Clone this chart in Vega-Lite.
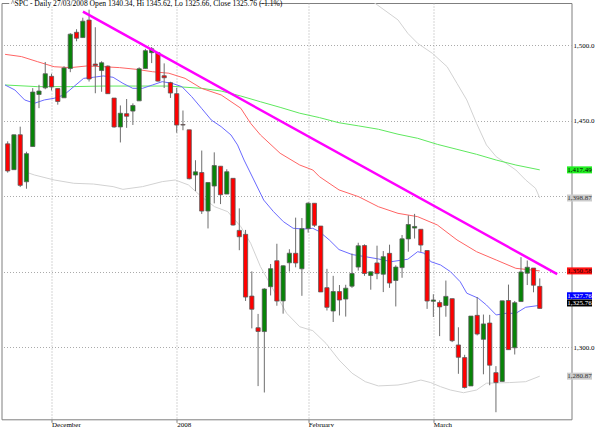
{
  "$schema": "https://vega.github.io/schema/vega-lite/v6.json",
  "width": 570,
  "height": 416.3,
  "autosize": {"type": "none"},
  "padding": {"left": 1.5, "top": 3, "right": 28.5, "bottom": 7.7},
  "background": "white",
  "config": {"view": {"stroke": "#7f7f7f", "strokeWidth": 1}, "font": "Liberation Serif"},
  "datasets": {
    "candles": [
      {"i":0,"o":1434.71,"h":1436.4,"l":1415.64,"c":1416.77},
      {"i":1,"o":1417.62,"h":1440.86,"l":1417.62,"c":1440.7},
      {"i":2,"o":1440.74,"h":1446.09,"l":1406.1,"c":1407.22},
      {"i":3,"o":1409.59,"h":1429.49,"l":1405.0,"c":1428.23},
      {"i":4,"o":1432.95,"h":1471.62,"l":1432.95,"c":1469.02},
      {"i":5,"o":1467.41,"h":1473.81,"l":1458.36,"c":1469.72},
      {"i":6,"o":1471.83,"h":1488.94,"l":1470.89,"c":1481.14},
      {"i":7,"o":1479.42,"h":1481.16,"l":1470.08,"c":1472.42},
      {"i":8,"o":1471.34,"h":1471.34,"l":1460.66,"c":1462.79},
      {"i":9,"o":1465.22,"h":1486.09,"l":1465.22,"c":1485.01},
      {"i":10,"o":1484.59,"h":1508.02,"l":1482.19,"c":1507.34},
      {"i":11,"o":1508.6,"h":1510.63,"l":1502.66,"c":1504.66},
      {"i":12,"o":1505.11,"h":1518.27,"l":1504.96,"c":1515.96},
      {"i":13,"o":1516.68,"h":1523.57,"l":1475.99,"c":1477.65},
      {"i":14,"o":1487.58,"h":1511.96,"l":1468.23,"c":1486.59},
      {"i":15,"o":1483.27,"h":1489.4,"l":1469.21,"c":1488.41},
      {"i":16,"o":1486.19,"h":1486.67,"l":1467.78,"c":1467.95},
      {"i":17,"o":1465.05,"h":1465.05,"l":1445.43,"c":1445.9},
      {"i":18,"o":1445.92,"h":1460.16,"l":1435.65,"c":1454.98},
      {"i":19,"o":1454.7,"h":1464.42,"l":1445.31,"c":1453.0},
      {"i":20,"o":1456.42,"h":1461.53,"l":1447.22,"c":1460.12},
      {"i":21,"o":1463.19,"h":1485.4,"l":1463.19,"c":1484.46},
      {"i":22,"o":1484.55,"h":1497.63,"l":1484.55,"c":1496.45},
      {"i":23,"o":1495.12,"h":1498.85,"l":1488.2,"c":1497.66},
      {"i":24,"o":1495.05,"h":1495.05,"l":1475.86,"c":1476.27},
      {"i":25,"o":1479.83,"h":1488.01,"l":1471.7,"c":1478.49},
      {"i":26,"o":1475.25,"h":1475.83,"l":1465.13,"c":1468.36},
      {"i":27,"o":1467.97,"h":1471.77,"l":1442.07,"c":1447.16},
      {"i":28,"o":1447.55,"h":1456.8,"l":1443.73,"c":1447.16},
      {"i":29,"o":1444.01,"h":1444.01,"l":1411.19,"c":1411.63},
      {"i":30,"o":1414.07,"h":1423.87,"l":1403.45,"c":1416.18},
      {"i":31,"o":1415.71,"h":1430.28,"l":1388.3,"c":1390.19},
      {"i":32,"o":1390.25,"h":1409.19,"l":1378.7,"c":1409.13},
      {"i":33,"o":1406.78,"h":1429.09,"l":1395.31,"c":1420.33},
      {"i":34,"o":1419.91,"h":1419.91,"l":1394.83,"c":1401.02},
      {"i":35,"o":1401.46,"h":1417.89,"l":1401.46,"c":1416.25},
      {"i":36,"o":1411.88,"h":1411.88,"l":1380.6,"c":1380.95},
      {"i":37,"o":1377.41,"h":1391.99,"l":1364.27,"c":1373.2},
      {"i":38,"o":1374.79,"h":1377.72,"l":1330.67,"c":1333.25},
      {"i":39,"o":1333.9,"h":1350.28,"l":1312.51,"c":1325.19},
      {"i":40,"o":1312.94,"h":1322.09,"l":1274.29,"c":1310.5},
      {"i":41,"o":1310.41,"h":1339.09,"l":1270.05,"c":1338.6},
      {"i":42,"o":1340.13,"h":1355.15,"l":1334.31,"c":1352.07},
      {"i":43,"o":1357.32,"h":1368.56,"l":1327.5,"c":1330.61},
      {"i":44,"o":1330.7,"h":1354.25,"l":1322.26,"c":1353.96},
      {"i":45,"o":1355.94,"h":1364.93,"l":1350.19,"c":1362.3},
      {"i":46,"o":1362.22,"h":1385.86,"l":1352.95,"c":1355.81},
      {"i":47,"o":1351.98,"h":1385.62,"l":1334.08,"c":1378.55},
      {"i":48,"o":1378.6,"h":1396.02,"l":1375.93,"c":1395.42},
      {"i":49,"o":1395.38,"h":1395.38,"l":1379.69,"c":1380.82},
      {"i":50,"o":1380.28,"h":1380.28,"l":1336.64,"c":1336.64},
      {"i":51,"o":1339.48,"h":1351.96,"l":1324.34,"c":1326.45},
      {"i":52,"o":1324.01,"h":1347.31,"l":1316.75,"c":1336.91},
      {"i":53,"o":1336.88,"h":1341.22,"l":1321.06,"c":1331.29},
      {"i":54,"o":1331.92,"h":1341.4,"l":1320.32,"c":1339.13},
      {"i":55,"o":1340.48,"h":1362.1,"l":1339.36,"c":1348.86},
      {"i":56,"o":1353.12,"h":1369.23,"l":1350.78,"c":1367.21},
      {"i":57,"o":1367.33,"h":1368.16,"l":1347.31,"c":1348.86},
      {"i":58,"o":1347.52,"h":1350.0,"l":1338.13,"c":1349.99},
      {"i":59,"o":1355.86,"h":1367.28,"l":1345.05,"c":1348.78},
      {"i":60,"o":1348.39,"h":1363.71,"l":1336.55,"c":1360.03},
      {"i":61,"o":1362.21,"h":1367.94,"l":1339.34,"c":1342.53},
      {"i":62,"o":1344.22,"h":1354.3,"l":1327.04,"c":1353.11},
      {"i":63,"o":1352.75,"h":1374.36,"l":1346.03,"c":1371.8},
      {"i":64,"o":1371.76,"h":1387.34,"l":1363.29,"c":1381.29},
      {"i":65,"o":1378.95,"h":1388.34,"l":1372.0,"c":1380.02},
      {"i":66,"o":1378.16,"h":1378.16,"l":1363.16,"c":1367.68},
      {"i":67,"o":1364.07,"h":1364.07,"l":1325.42,"c":1330.63},
      {"i":68,"o":1330.45,"h":1335.13,"l":1320.04,"c":1331.34},
      {"i":69,"o":1329.58,"h":1331.03,"l":1307.39,"c":1326.75},
      {"i":70,"o":1327.69,"h":1344.19,"l":1320.22,"c":1333.7},
      {"i":71,"o":1332.2,"h":1332.2,"l":1303.42,"c":1304.34},
      {"i":72,"o":1301.53,"h":1313.24,"l":1282.43,"c":1293.37},
      {"i":73,"o":1293.16,"h":1295.01,"l":1272.66,"c":1273.37},
      {"i":74,"o":1274.4,"h":1320.65,"l":1274.4,"c":1320.65},
      {"i":75,"o":1321.13,"h":1333.26,"l":1307.86,"c":1308.77},
      {"i":76,"o":1305.26,"h":1321.68,"l":1282.11,"c":1315.48},
      {"i":77,"o":1316.05,"h":1321.47,"l":1274.86,"c":1288.14},
      {"i":78,"o":1283.21,"h":1287.5,"l":1256.98,"c":1276.6},
      {"i":79,"o":1277.41,"h":1330.74,"l":1277.41,"c":1330.74},
      {"i":80,"o":1330.97,"h":1341.51,"l":1298.42,"c":1298.42},
      {"i":81,"o":1299.67,"h":1330.67,"l":1295.22,"c":1329.51},
      {"i":82,"o":1330.29,"h":1359.68,"l":1330.29,"c":1349.88},
      {"i":83,"o":1349.07,"h":1357.47,"l":1341.21,"c":1352.99},
      {"i":84,"o":1352.45,"h":1352.45,"l":1336.41,"c":1341.13},
      {"i":85,"o":1340.34,"h":1345.62,"l":1325.66,"c":1325.76}
    ],
    "green": [
      {"i":-0.42,"v":1473.7},{"i":4.76,"v":1472.6},{"i":10.04,"v":1472.6},{"i":15.27,"v":1473.0},
      {"i":20.45,"v":1473.0},{"i":25.74,"v":1473.0},{"i":30.96,"v":1471.5},{"i":34.1,"v":1469.7},
      {"i":37.24,"v":1466.4},{"i":40.38,"v":1462.6},{"i":43.52,"v":1458.9},{"i":46.66,"v":1455.0},
      {"i":49.8,"v":1452.1},{"i":52.93,"v":1448.7},{"i":56.07,"v":1446.6},{"i":59.21,"v":1444.4},
      {"i":62.35,"v":1441.1},{"i":65.49,"v":1438.4},{"i":68.63,"v":1434.4},{"i":71.77,"v":1431.1},
      {"i":74.9,"v":1427.8},{"i":78.04,"v":1424.0},{"i":81.18,"v":1420.7},{"i":85,"v":1417.49}
    ],
    "red": [
      {"i":-0.42,"v":1494.0},{"i":2.2,"v":1492.5},{"i":4.8,"v":1489.1},{"i":7.42,"v":1485.8},
      {"i":10.04,"v":1485.2},{"i":12.65,"v":1486.3},{"i":15.27,"v":1485.8},{"i":17.89,"v":1485.2},
      {"i":20.5,"v":1484.1},{"i":23.12,"v":1482.5},{"i":25.74,"v":1481.5},{"i":28.34,"v":1478.1},
      {"i":30.96,"v":1471.5},{"i":34.1,"v":1467.1},{"i":37.24,"v":1458.3},{"i":38.81,"v":1448.3},
      {"i":40.38,"v":1440.6},{"i":43.52,"v":1428.5},{"i":46.66,"v":1420.7},{"i":48.75,"v":1417.4},
      {"i":49.8,"v":1413.0},{"i":52.93,"v":1404.2},{"i":56.07,"v":1399.7},{"i":59.21,"v":1393.1},
      {"i":62.35,"v":1388.7},{"i":65.49,"v":1386.5},{"i":68.63,"v":1381.0},{"i":71.77,"v":1371.1},
      {"i":74.9,"v":1363.3},{"i":78.04,"v":1357.8},{"i":81.18,"v":1352.3},{"i":85,"v":1350.58}
    ],
    "blue": [
      {"i":-0.42,"v":1473.7},{"i":1.15,"v":1470.4},{"i":2.71,"v":1463.8},{"i":4.28,"v":1461.6},
      {"i":5.85,"v":1463.8},{"i":7.42,"v":1464.9},{"i":8.99,"v":1467.1},{"i":10.56,"v":1472.6},
      {"i":12.13,"v":1478.1},{"i":13.7,"v":1478.8},{"i":15.27,"v":1479.7},{"i":16.84,"v":1478.8},
      {"i":18.41,"v":1474.8},{"i":19.98,"v":1471.5},{"i":21.55,"v":1471.5},{"i":23.12,"v":1473.7},
      {"i":24.69,"v":1475.9},{"i":26.26,"v":1474.8},{"i":27.83,"v":1472.6},{"i":29.39,"v":1466.0},
      {"i":30.96,"v":1458.3},{"i":32.53,"v":1450.5},{"i":34.1,"v":1446.1},{"i":35.67,"v":1440.6},
      {"i":36.72,"v":1434.0},{"i":37.76,"v":1424.0},{"i":39.33,"v":1410.8},{"i":40.9,"v":1397.5},
      {"i":42.47,"v":1389.8},{"i":44.04,"v":1383.2},{"i":45.61,"v":1378.8},{"i":47.17,"v":1378.3},
      {"i":48.74,"v":1378.8},{"i":49.8,"v":1376.6},{"i":51.37,"v":1371.1},{"i":52.93,"v":1364.7},
      {"i":55.02,"v":1361.4},{"i":57.13,"v":1360.0},{"i":59.21,"v":1358.5},{"i":61.3,"v":1356.7},
      {"i":63.92,"v":1358.3},{"i":65.49,"v":1363.3},{"i":66.54,"v":1362.3},{"i":67.58,"v":1356.7},
      {"i":69.15,"v":1354.5},{"i":70.72,"v":1350.1},{"i":72.29,"v":1343.4},{"i":73.34,"v":1335.8},
      {"i":75.17,"v":1332.5},{"i":76.48,"v":1328.0},{"i":78.04,"v":1321.4},{"i":79.61,"v":1322.5},
      {"i":81.18,"v":1322.5},{"i":82.75,"v":1326.5},{"i":85,"v":1327.76}
    ],
    "upper": [
      {"i":57.96,"v":1530.0},{"i":62.35,"v":1516.8},{"i":63.92,"v":1507.9},{"i":65.49,"v":1501.3},
      {"i":67.84,"v":1494.7},{"i":70.2,"v":1485.8},{"i":71.77,"v":1474.8},{"i":73.34,"v":1463.8},
      {"i":74.9,"v":1448.3},{"i":76.48,"v":1434.0},{"i":78.04,"v":1426.2},{"i":79.61,"v":1421.9},
      {"i":81.18,"v":1417.4},{"i":82.75,"v":1410.8},{"i":84.32,"v":1405.3},{"i":85,"v":1398.87}
    ],
    "lower": [
      {"i":2.71,"v":1416.3},{"i":4.28,"v":1414.1},{"i":7.42,"v":1410.8},{"i":10.56,"v":1408.6},
      {"i":13.7,"v":1408.1},{"i":16.84,"v":1406.4},{"i":18.41,"v":1404.6},{"i":21.55,"v":1406.4},
      {"i":24.69,"v":1409.7},{"i":26.77,"v":1410.8},{"i":28.88,"v":1407.5},{"i":30.96,"v":1399.7},
      {"i":33.05,"v":1393.1},{"i":35.15,"v":1389.8},{"i":37.24,"v":1379.9},{"i":38.81,"v":1368.9},
      {"i":40.38,"v":1353.4},{"i":42.47,"v":1337.9},{"i":44.57,"v":1322.5},{"i":46.66,"v":1313.6},
      {"i":48.74,"v":1311.0},{"i":50.85,"v":1302.6},{"i":52.93,"v":1291.6},{"i":55.02,"v":1282.8},
      {"i":57.13,"v":1277.2},{"i":59.21,"v":1274.4},{"i":62.35,"v":1275.0},{"i":63.92,"v":1276.2},
      {"i":66.01,"v":1278.3},{"i":67.58,"v":1276.6},{"i":69.15,"v":1273.9},{"i":70.72,"v":1271.7},
      {"i":72.82,"v":1269.9},{"i":74.9,"v":1271.7},{"i":76.48,"v":1276.2},{"i":80.14,"v":1276.6},
      {"i":82.75,"v":1277.2},{"i":85,"v":1280.87}
    ],
    "trend": [
      {"i":12.02,"v":1522.25},{"i":87.78,"v":1348.5}
    ],
    "labels": [
      {"name":"green","v":1417.49},
      {"name":"upper","v":1398.87},
      {"name":"red","v":1350.58},
      {"name":"lower","v":1280.87}
    ]
  },
  "layer": [
    {
      "data": {"name": "upper"},
      "mark": {"type": "line", "color": "#d2d2d2", "strokeWidth": 1, "clip": true},
      "encoding": {
        "x": {
          "field": "i", "type": "quantitative", "title": null,
          "scale": {"domain": [-0.19, 89.27], "nice": false, "zero": false},
          "axis": {
            "values": [7, 27, 48, 68],
            "labelExpr": "datum.value == 7 ? 'December' : datum.value == 27 ? '2008' : datum.value == 48 ? 'February' : 'March'",
            "labelAlign": "left", "labelDx": 1.5, "labelBaseline": "top", "labelPadding": -1.5,
            "tickSize": 3, "tickColor": "#808080", "domain": false,
            "grid": true, "gridColor": "#aaaaaa", "gridDash": [1, 2],
            "labelFont": "Liberation Serif", "labelFontSize": 7, "labelColor": "#000000",
            "labelFlush": false, "labelOverlap": false
          }
        },
        "y": {
          "field": "v", "type": "quantitative", "title": null,
          "scale": {"domain": [1252.3, 1528], "nice": false, "zero": false},
          "axis": {
            "orient": "right", "values": [1300, 1350, 1400, 1450, 1500], "format": ",.1f",
            "labelExpr": "datum.value == 1350 || datum.value == 1400 ? '' : datum.label",
            "ticks": false, "tickSize": 0, "labelPadding": 1.5, "domain": false,
            "grid": true, "gridColor": "#aaaaaa", "gridDash": [1, 2],
            "labelFont": "Liberation Serif", "labelFontSize": 7, "labelColor": "#000000"
          }
        }
      }
    },
    {
      "data": {"name": "lower"},
      "mark": {"type": "line", "color": "#d2d2d2", "strokeWidth": 1, "clip": true},
      "encoding": {"x": {"field": "i", "type": "quantitative", "title": null}, "y": {"field": "v", "type": "quantitative", "title": null}}
    },
    {
      "data": {"name": "green"},
      "mark": {"type": "line", "color": "#5ee85e", "strokeWidth": 1, "clip": true},
      "encoding": {"x": {"field": "i", "type": "quantitative", "title": null}, "y": {"field": "v", "type": "quantitative", "title": null}}
    },
    {
      "data": {"name": "red"},
      "mark": {"type": "line", "color": "#ff6464", "strokeWidth": 1, "clip": true},
      "encoding": {"x": {"field": "i", "type": "quantitative", "title": null}, "y": {"field": "v", "type": "quantitative", "title": null}}
    },
    {
      "data": {"name": "blue"},
      "mark": {"type": "line", "color": "#6a6aff", "strokeWidth": 1, "clip": true},
      "encoding": {"x": {"field": "i", "type": "quantitative", "title": null}, "y": {"field": "v", "type": "quantitative", "title": null}}
    },
    {
      "data": {"name": "candles"},
      "mark": {"type": "rule", "color": "#6e6e6e", "strokeWidth": 1, "clip": true},
      "encoding": {"x": {"field": "i", "type": "quantitative", "title": null}, "y": {"field": "l", "type": "quantitative", "title": null}, "y2": {"field": "h"}}
    },
    {
      "data": {"name": "candles"},
      "mark": {"type": "bar", "width": 4.2, "stroke": "#5a5a5a", "strokeWidth": 0.8, "clip": true},
      "encoding": {
        "x": {"field": "i", "type": "quantitative", "title": null},
        "y": {"field": "o", "type": "quantitative", "title": null},
        "y2": {"field": "c"},
        "color": {"condition": {"test": "datum.o > datum.c", "value": "#ff0000"}, "value": "#078407"}
      }
    },
    {
      "data": {"name": "trend"},
      "mark": {"type": "line", "color": "#ff00ff", "strokeWidth": 2.5, "clip": false},
      "encoding": {"x": {"field": "i", "type": "quantitative", "title": null}, "y": {"field": "v", "type": "quantitative", "title": null}}
    },
    {
      "data": {"name": "labels"},
      "mark": {"type": "tick", "orient": "horizontal", "size": 25, "thickness": 7, "opacity": 1, "clip": false},
      "encoding": {
        "x": {"datum": 91.35},
        "y": {"field": "v", "type": "quantitative", "title": null},
        "color": {"field": "name", "type": "nominal", "legend": null,
          "scale": {"domain": ["green", "upper", "red", "lower"], "range": ["#22ee22", "#cccccc", "#ff1010", "#cccccc"]}}
      }
    },
    {
      "data": {"name": "labels"},
      "mark": {"type": "text", "font": "Liberation Serif", "fontSize": 7, "align": "center", "baseline": "middle", "clip": false},
      "encoding": {
        "x": {"datum": 91.35},
        "y": {"field": "v", "type": "quantitative", "title": null},
        "text": {"field": "v", "type": "quantitative", "format": ",.2f"},
        "fill": {"field": "name", "type": "nominal", "legend": null,
          "scale": {"domain": ["green", "upper", "red", "lower"], "range": ["#000000", "#333333", "#200000", "#333333"]}}
      }
    },
    {
      "data": {"values": [{"v": 1327.76}]},
      "mark": {"type": "tick", "orient": "horizontal", "size": 25, "thickness": 7, "opacity": 1, "clip": false, "color": "#0000ff", "yOffset": -9.6},
      "encoding": {"x": {"datum": 91.35}, "y": {"field": "v", "type": "quantitative", "title": null}}
    },
    {
      "data": {"values": [{"v": 1327.76}]},
      "mark": {"type": "text", "font": "Liberation Serif", "fontSize": 7, "align": "center", "baseline": "middle", "clip": false, "color": "#ffffff", "yOffset": -9.6},
      "encoding": {"x": {"datum": 91.35}, "y": {"field": "v", "type": "quantitative", "title": null}, "text": {"field": "v", "type": "quantitative", "format": ",.2f"}}
    },
    {
      "data": {"values": [{"v": 1325.76}]},
      "mark": {"type": "tick", "orient": "horizontal", "size": 25, "thickness": 7, "opacity": 1, "clip": false, "color": "#000000", "yOffset": -5.4},
      "encoding": {"x": {"datum": 91.35}, "y": {"field": "v", "type": "quantitative", "title": null}}
    },
    {
      "data": {"values": [{"v": 1325.76}]},
      "mark": {"type": "text", "font": "Liberation Serif", "fontSize": 7, "align": "center", "baseline": "middle", "clip": false, "color": "#ffffff", "yOffset": -5.4},
      "encoding": {"x": {"datum": 91.35}, "y": {"field": "v", "type": "quantitative", "title": null}, "text": {"field": "v", "type": "quantitative", "format": ",.2f"}}
    },
    {
      "data": {"values": [{"t": "title"}]},
      "mark": {"type": "rect", "color": "#ffffff", "opacity": 1, "clip": false},
      "encoding": {"x": {"datum": 0.25}, "x2": {"datum": 40.3}, "y": {"datum": 1531}, "y2": {"datum": 1525.5}}
    },
    {
      "data": {"values": [{"t": "^SPC - Daily 27/03/2008 Open 1340.34, Hi 1345.62, Lo 1325.66, Close 1325.76 (-1.1%)"}]},
      "mark": {"type": "text", "font": "Liberation Serif", "fontSize": 7.6, "align": "left", "baseline": "middle", "clip": false, "color": "#000000"},
      "encoding": {"x": {"datum": 0.52}, "y": {"datum": 1527.6}, "text": {"field": "t"}}
    }
  ]
}
